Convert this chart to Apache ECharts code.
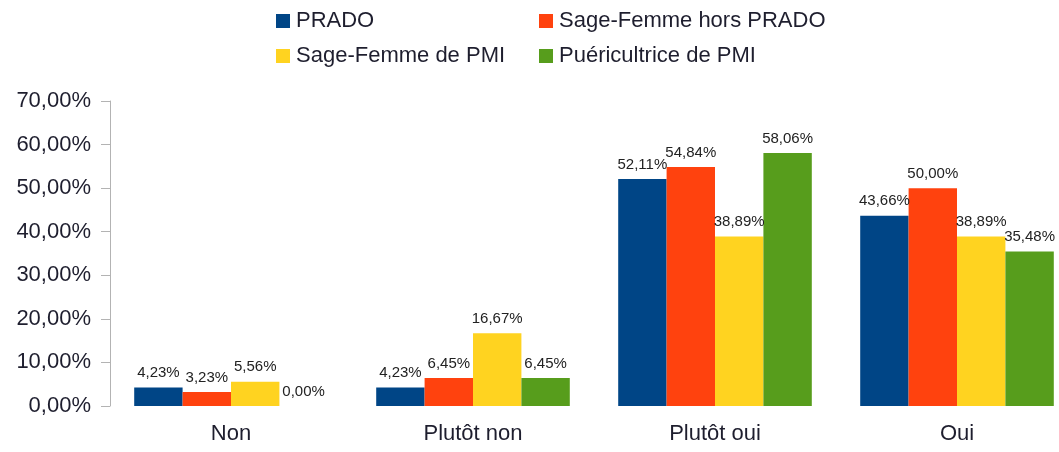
<!DOCTYPE html>
<html>
<head>
<meta charset="utf-8">
<script src="https://cdn.jsdelivr.net/npm/echarts@6/dist/echarts.min.js"></script>
<style>
  html, body { margin: 0; padding: 0; background: #fff; overflow: hidden; }
  /* le graphique d'origine est coupé à droite : zone plus large que la fenêtre */
  #chart { width: 1080px; height: 452px; }
</style>
</head>
<body>
<div id="chart"></div>
<script>
var categories = ["Non", "Plutôt non", "Plutôt oui", "Oui"];
var seriesNames = ["PRADO", "Sage-Femme hors PRADO", "Sage-Femme de PMI", "Puéricultrice de PMI"];
var prado = [4.23, 4.23, 52.11, 43.66];
var sfHorsPrado = [3.23, 6.45, 54.84, 50.00];
var sfPmi = [5.56, 16.67, 38.89, 38.89];
var puericultrice = [0.00, 6.45, 58.06, 35.48];
var yTicks = [0, 10, 20, 30, 40, 50, 60, 70];

var colors = ["#004586", "#ff420e", "#ffd320", "#579d1c"];
var font = "'Liberation Sans', Arial, sans-serif";

function pct(v) {
  return v.toFixed(2).replace(".", ",") + "%";
}

var myChart = echarts.init(document.getElementById("chart"));

// une légende par item pour garder la grille 2x2
var legendPos = [
  { left: 276, top: 10 },
  { left: 539, top: 10 },
  { left: 276, top: 45 },
  { left: 539, top: 45 }
];
var legends = seriesNames.map(function (name, i) {
  return {
    data: [name],
    left: legendPos[i].left,
    top: legendPos[i].top,
    padding: 0,
    icon: "rect",
    itemWidth: 14,
    itemHeight: 14,
    selectedMode: false,
    textStyle: { fontFamily: font, fontSize: 22, color: "#1e1e2e", padding: [0, 0, 0, 1] }
  };
});

var allData = [prado, sfHorsPrado, sfPmi, puericultrice];
var series = allData.map(function (d, i) {
  return {
    name: seriesNames[i],
    type: "bar",
    data: d,
    barGap: 0,
    barCategoryGap: "20%",
    itemStyle: { color: colors[i] },
    label: {
      show: true,
      position: "top",
      distance: 7,
      fontFamily: font,
      fontSize: 15,
      color: "#222",
      formatter: function (p) { return pct(p.value); }
    }
  };
});

var option = {
  animation: false,
  color: colors,
  legend: legends,
  grid: { left: 110, top: 101, right: 2, height: 305, containLabel: false },
  xAxis: {
    type: "category",
    data: categories,
    axisLine: { show: false },
    axisTick: { show: false },
    axisLabel: { fontFamily: font, fontSize: 22, color: "#1e1e2e", margin: 17 }
  },
  yAxis: {
    type: "value",
    min: yTicks[0],
    max: yTicks[yTicks.length - 1],
    interval: 10,
    splitLine: { show: false },
    axisLine: { show: true, lineStyle: { color: "#b3b3b3" } },
    axisTick: { show: true, length: 9, lineStyle: { color: "#b3b3b3" } },
    axisLabel: {
      fontFamily: font,
      fontSize: 22,
      color: "#1e1e2e",
      margin: 19,
      formatter: function (v) { return pct(v); }
    }
  },
  series: series
};

myChart.setOption(option);
</script>
</body>
</html>
